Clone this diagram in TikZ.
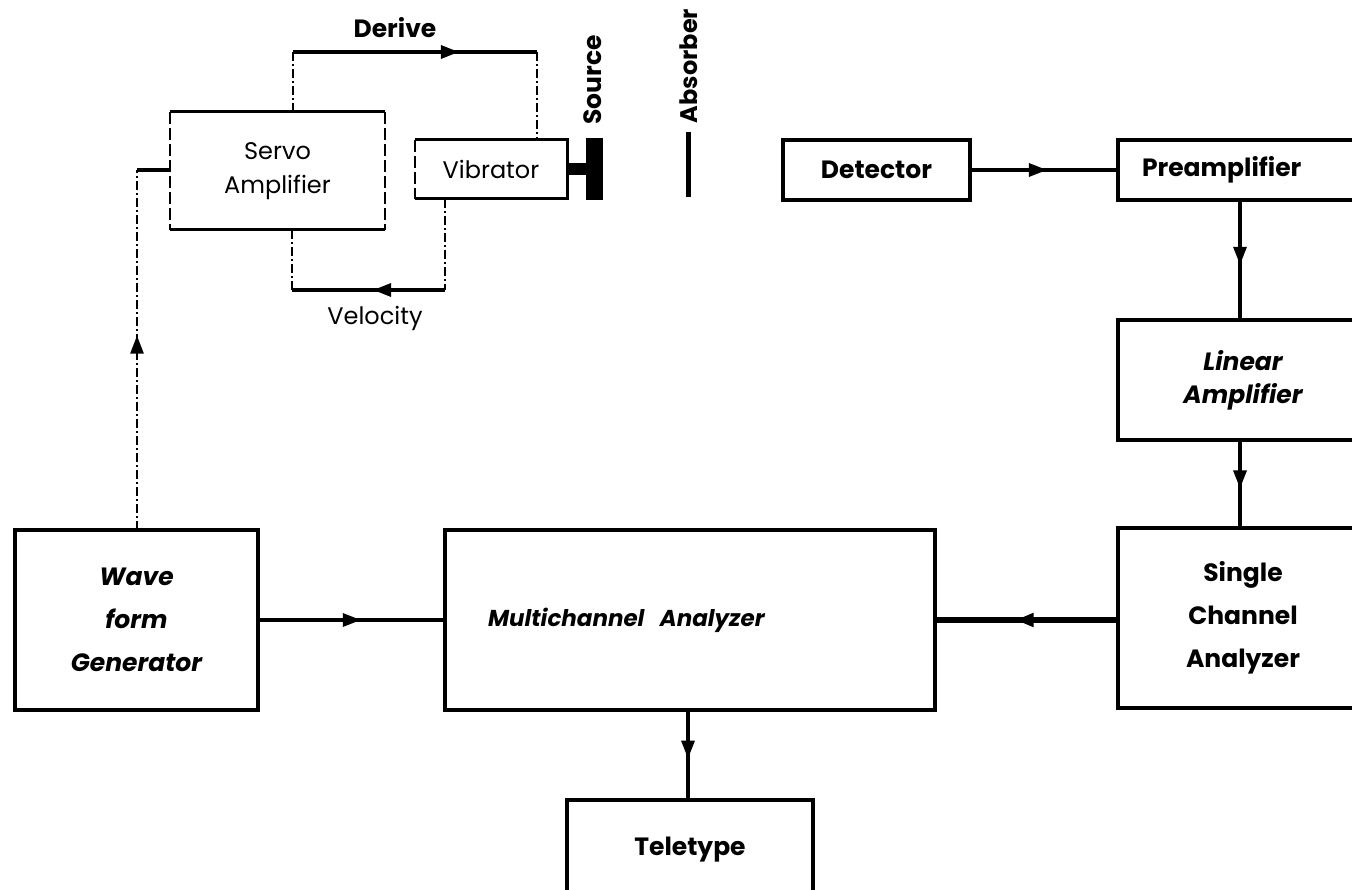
\documentclass[tikz,border=0pt]{standalone}
\usepackage{fontspec}
\setmainfont{Poppins}
\usetikzlibrary{arrows.meta,decorations.markings,calc}
\tikzset{
  box/.style={draw, line width=3.4pt, inner sep=0pt, outer sep=0pt, align=center, anchor=north west,
    font=\fontsize{25}{43}\selectfont\bfseries},
  lightbox/.style={box, draw=none, font=\fontsize{24}{34}\selectfont},
  conn/.style={line width=3.2pt},
  heavyconn/.style={line width=6pt},
  ctrl/.style={line width=2.6pt, dash pattern=on 9pt off 3pt on 2pt off 3pt},
  sideline/.style={line width=2.6pt, dash pattern=on 12pt off 4pt},
  topline/.style={line width=3pt},
  arrowat/.style={postaction={decorate}, decoration={markings,
    mark=at position #1 with {\arrow{Triangle[length=18pt,width=13pt]}}}},
  lbl/.style={font=\fontsize{25}{30}\selectfont\bfseries, inner sep=0pt},
  lightlbl/.style={font=\fontsize{24}{30}\selectfont, inner sep=0pt},
}
\begin{document}
\begin{tikzpicture}[x=1pt, y=-1pt]
\useasboundingbox (0,0) rectangle (1352,890);
\clip (0,0) rectangle (1352,890);
\fill[white] (0,0) rectangle (1352,890);

% servo amplifier and vibrator
\node[lightbox, minimum width=215pt, minimum height=118pt] (servo) at (170,112) {Servo\\Amplifier};
\draw[topline] (servo.north west) -- (servo.north east);
\draw[topline] (servo.south west) -- (servo.south east);
\draw[sideline] (servo.north west) -- (servo.south west);
\draw[sideline] (servo.north east) -- (servo.south east);

\node[lightbox, minimum width=152pt, minimum height=59pt] (vib) at (415,140) {Vibrator};
\draw[topline] (vib.north west) -- (vib.north east) -- (vib.south east) -- (vib.south west);
\draw[sideline] (vib.north west) -- (vib.south west);

% source and absorber
\node[fill, minimum width=17pt, minimum height=62pt, inner sep=0pt] (src) at (594.5,169) {};
\draw[line width=12pt] (vib.east |- src.west) -- (src.west);
\node[lbl, rotate=90] (srclbl) at (593,80) {Source};
\node[minimum width=5pt, minimum height=65pt, inner sep=0pt, fill] (absb) at (688,165) {};
\node[lbl, rotate=90, font=\fontsize{24}{30}\selectfont\bfseries] (abslbl) at (689,66) {Absorber};

% derive loop
\coordinate (dL) at (293,52);
\coordinate (dR) at (537,52);
\draw[ctrl] (servo.north -| dL) -- (dL);
\draw[conn, arrowat=0.68] (dL) -- (dR);
\draw[ctrl] (dR) -- (vib.north -| dR);
\node[lbl] (der) at (395,28) {Derive};

% velocity loop
\coordinate (vR) at (445,290);
\coordinate (vL) at (292,290);
\draw[ctrl] (vib.south -| vR) -- (vR);
\draw[conn, arrowat=0.47] (vR) -- (vL);
\draw[ctrl] (vL) -- (servo.south -| vL);
\node[lightlbl] (vel) at (375,318) {Velocity};

% lower row
\node[box, minimum width=243pt, minimum height=180pt, font=\fontsize{25}{43}\selectfont\bfseries\itshape] (wave) at (15,530) {Wave\\form\\Generator};
\node[box, inner xsep=43pt, text width=404pt, minimum height=180pt, align=left, font=\fontsize{23}{30}\selectfont\bfseries\itshape] (mca) at (445,530) {Multichannel\ \ Analyzer};
\node[box, minimum width=250pt, minimum height=180pt] (sca) at (1118,528) {Single\\Channel\\Analyzer};
\node[box, minimum width=246pt, minimum height=110pt] (tty) at (567,800) {\raisebox{17pt}{Teletype}};

% right column
\node[box, minimum width=187pt, minimum height=60pt] (det) at (783,140) {Detector};
\node[box, inner xsep=24pt, text width=202pt, minimum height=60pt, align=left] (pre) at (1118,140) {Preamplifier};
\node[box, minimum width=250pt, minimum height=120pt, font=\fontsize{25}{33}\selectfont\bfseries\itshape] (lin) at (1118,320) {Linear\\Amplifier};

% wave generator to servo
\coordinate (wT) at (137,170);
\draw[ctrl, arrowat=0.54] (wave.north -| wT) -- (wT);
\draw[conn] (wT) -- (servo.west |- wT);

% signal chain
\draw[conn, arrowat=0.52] (det.east) -- (pre.west |- det.east);
\coordinate (px) at (1240,0);
\draw[conn, arrowat=0.54] (pre.south -| px) -- (lin.north -| px);
\draw[conn, arrowat=0.55] (lin.south -| px) -- (sca.north -| px);
\coordinate (my) at (0,620);
\draw[heavyconn, arrowat=0.56] (sca.west |- my) -- (mca.east |- my);
\draw[conn, arrowat=0.55] (wave.east |- my) -- (mca.west |- my);
\coordinate (tx) at (688,0);
\draw[conn, arrowat=0.54] (mca.south -| tx) -- (tty.north -| tx);
\end{tikzpicture}
\end{document}
